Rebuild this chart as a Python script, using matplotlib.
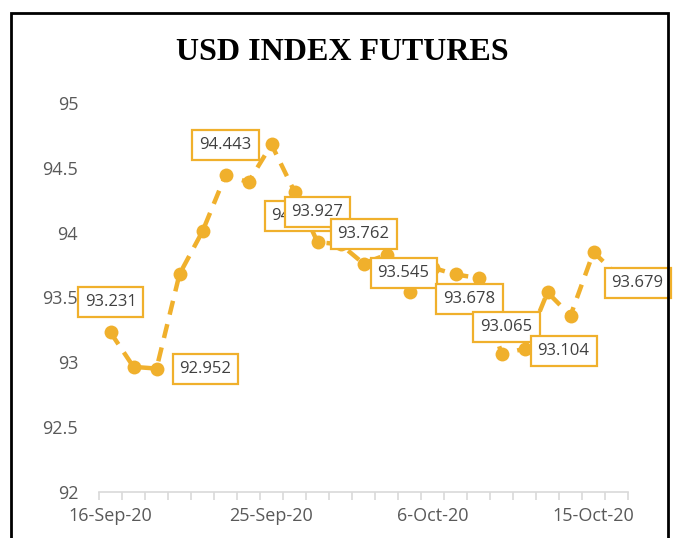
import matplotlib.pyplot as plt
from matplotlib.patches import Rectangle

# ---------- data ----------
dates = ["16-Sep-20", "17-Sep-20", "18-Sep-20", "21-Sep-20", "22-Sep-20", "23-Sep-20",
         "24-Sep-20", "25-Sep-20", "28-Sep-20", "29-Sep-20", "30-Sep-20", "1-Oct-20",
         "2-Oct-20", "5-Oct-20", "6-Oct-20", "7-Oct-20", "8-Oct-20", "9-Oct-20",
         "12-Oct-20", "13-Oct-20", "14-Oct-20", "15-Oct-20", "16-Oct-20"]
prices = [93.231, 92.965, 92.952, 93.68, 94.01, 94.443, 94.39, 94.68, 94.316, 93.927,
          93.91, 93.762, 93.83, 93.545, 93.73, 93.678, 93.65, 93.065, 93.104, 93.54,
          93.36, 93.85, 93.679]
labelled = [0, 2, 5, 8, 9, 11, 13, 15, 17, 18, 22]
tick_every = 7

# label offsets in pixels (dx, dy), same order as labelled
offsets = [(0, 30), (49, 0), (0, 30), (3, -24), (0, 30), (0, 30),
           (-6, 19), (14, -25), (5, 27), (39, -2), (21, -9)]

orange = "#F0B02C"
grey = "#595959"

plt.rcParams['font.family'] = ['Open Sans', 'DejaVu Sans']

fig = plt.figure(figsize=(6.74, 5.38), dpi=100)
ax = fig.add_axes([99 / 674, 1 - 492 / 538, 529 / 674, 389 / 538])

x = list(range(len(prices)))
ax.plot(x, prices, color=orange, lw=3.2, linestyle=(0, (3.2, 2.2)),
        marker="o", markersize=10, markeredgewidth=0, zorder=3)

for k, (i, (dx, dy)) in enumerate(zip(labelled, offsets)):
    ax.annotate(f"{prices[i]:.3f}", (i, prices[i]), xytext=(dx, dy),
                textcoords="offset pixels", ha="center", va="center",
                fontsize=12, color="#404040", zorder=10 + k,
                bbox=dict(boxstyle="square,pad=0.42", fc="white", ec=orange, lw=1.6))

ax.set_xlim(-0.5, len(prices) - 0.5)
ax.set_ylim(92, 95)
ax.set_yticks([92, 92.5, 93, 93.5, 94, 94.5, 95])
ax.set_yticklabels(["92", "92.5", "93", "93.5", "94", "94.5", "95"])

major = list(range(0, len(prices), tick_every))
ax.set_xticks(major)
ax.set_xticklabels([dates[i] for i in major])
ax.set_xticks([i - 0.5 for i in range(len(prices) + 1)], minor=True)
ax.tick_params(axis="x", which="major", length=0, pad=11, labelsize=13, labelcolor=grey)
ax.tick_params(axis="x", which="minor", length=6, color="#D9D9D9", width=1.2)
ax.tick_params(axis="y", length=0, pad=15, labelsize=13, labelcolor=grey)

for side in ["top", "right", "left"]:
    ax.spines[side].set_visible(False)
ax.spines["bottom"].set_color("#D9D9D9")
ax.spines["bottom"].set_linewidth(1.2)

fig.text(342 / 674, 1 - 52 / 538, "USD INDEX FUTURES", ha="center", va="center",
         family="Liberation Serif", fontweight="bold", fontsize=23, color="black")

# chart border
fig.patches.append(Rectangle((11 / 674, -0.1), 657 / 674, 1.1 - 13 / 538,
                             transform=fig.transFigure, fill=False, ec="black", lw=2))

fig.savefig("out.png", dpi=100)
